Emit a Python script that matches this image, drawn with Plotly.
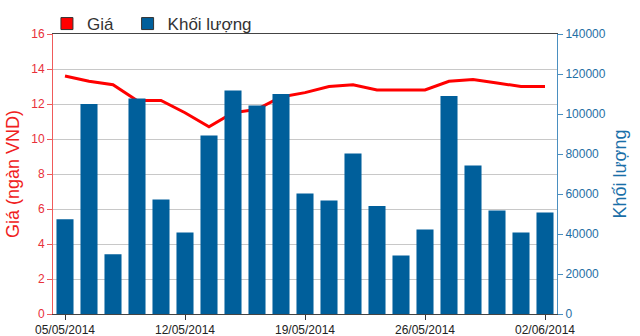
import plotly.graph_objects as go

dates = ["05/05/2014", "06/05/2014", "07/05/2014", "08/05/2014", "09/05/2014",
         "12/05/2014", "13/05/2014", "14/05/2014", "15/05/2014", "16/05/2014",
         "19/05/2014", "20/05/2014", "21/05/2014", "22/05/2014", "23/05/2014",
         "26/05/2014", "27/05/2014", "28/05/2014", "29/05/2014", "30/05/2014",
         "02/06/2014"]
price = [13.6, 13.3, 13.1, 12.2, 12.2, 11.5, 10.7, 11.5, 11.7, 12.4, 12.65,
         13.0, 13.1, 12.8, 12.8, 12.8, 13.3, 13.4, 13.2, 13.0, 13.0]
volume = [47400, 105000, 29900, 107700, 57300, 40700, 89300, 111700, 104300,
          110000, 60200, 56800, 80300, 54000, 29300, 42300, 109000, 74300,
          51800, 40700, 50700]
tick_dates = ["05/05/2014", "12/05/2014", "19/05/2014", "26/05/2014", "02/06/2014"]

RED = "#ff0000"
BLUE = "#005f9b"

fig = go.Figure()
fig.add_trace(go.Bar(x=dates, y=volume, name="Khối lượng", marker_color=BLUE,
                     marker_line_width=0, yaxis="y2", showlegend=False))
fig.add_trace(go.Scatter(x=dates, y=price, name="Giá", mode="lines",
                         line=dict(color=RED, width=3), showlegend=False))
# legend entries (square swatches)
fig.add_trace(go.Scatter(x=[None], y=[None], name="Giá", mode="markers",
                         legend="legend",
                         marker=dict(symbol="square", size=12, color=RED,
                                     line=dict(color="#333", width=1))))
fig.add_trace(go.Scatter(x=[None], y=[None], name="Khối lượng", mode="markers",
                         legend="legend2",
                         marker=dict(symbol="square", size=12, color=BLUE,
                                     line=dict(color="#333", width=1))))

leg_common = dict(orientation="h", xanchor="left", yref="container",
                  y=1 - 24 / 336, yanchor="middle",
                  font=dict(size=17, color="#333"), itemwidth=30,
                  bgcolor="rgba(0,0,0,0)")

fig.update_layout(
    width=640, height=336,
    margin=dict(l=53, r=83, t=34, b=22, autoexpand=False),
    paper_bgcolor="white", plot_bgcolor="white",
    font=dict(family="Liberation Sans, Arial, sans-serif", color="#222"),
    bargap=0.29,
    legend=dict(x=-0.012, **leg_common),
    legend2=dict(x=0.148, **leg_common),
    xaxis=dict(type="category", categoryorder="array", categoryarray=dates,
               range=[-0.5, 20.5], tickmode="array", tickvals=tick_dates,
               ticktext=tick_dates, ticks="outside", ticklen=5, tickcolor="#333",
               showline=True, linecolor="#444", linewidth=1, mirror=True,
               showgrid=False, tickfont=dict(size=12, color="#222")),
    yaxis=dict(range=[0, 16], dtick=2, showgrid=True, gridcolor="#c8c8c8",
               zeroline=False, showline=True, linecolor="#f05a5a", linewidth=1,
               ticks="outside", ticklen=5, tickcolor="#f05a5a",
               tickfont=dict(size=12, color="#e8303a"),
               title=dict(text="Giá (ngàn VND)", standoff=6,
                          font=dict(size=18, color="#f02020"))),
    yaxis2=dict(range=[0, 140000], dtick=20000, tickformat="d", overlaying="y",
                side="right", showgrid=False, zeroline=False, showline=True,
                linecolor="#4a8fc0", linewidth=1, ticks="outside", ticklen=5,
                tickcolor="#4a8fc0", tickfont=dict(size=12, color="#1f6fa5"),
                title=dict(text="Khối lượng", standoff=8,
                           font=dict(size=18, color="#1a6fa8"))),
)

fig.write_html("out.html")
